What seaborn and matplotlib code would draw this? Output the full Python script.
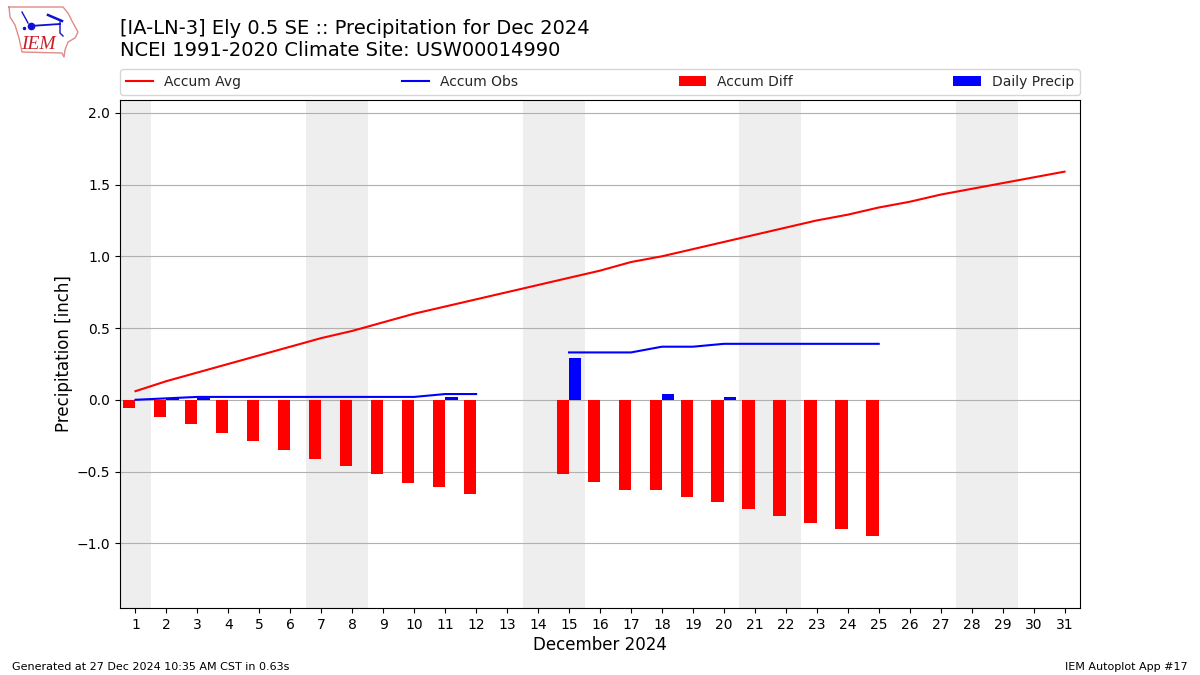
import numpy as np
import pandas as pd
import matplotlib
matplotlib.use("Agg")
import matplotlib.pyplot as plt
import seaborn as sns

days = list(range(1, 32))
accum_avg = [0.06, 0.13, 0.19, 0.25, 0.31, 0.37, 0.43, 0.48, 0.54, 0.60, 0.65, 0.70, 0.75, 0.80, 0.85, 0.90,
             0.96, 1.00, 1.05, 1.10, 1.15, 1.20, 1.25, 1.29, 1.34, 1.38, 1.43, 1.47, 1.51, 1.55, 1.59]
obs_days_a = [1, 2, 3, 4, 5, 6, 7, 8, 9, 10, 11, 12]
obs_vals_a = [0.0, 0.01, 0.02, 0.02, 0.02, 0.02, 0.02, 0.02, 0.02, 0.02, 0.04, 0.04]
obs_days_b = [15, 16, 17, 18, 19, 20, 21, 22, 23, 24, 25]
obs_vals_b = [0.33, 0.33, 0.33, 0.37, 0.37, 0.39, 0.39, 0.39, 0.39, 0.39, 0.39]
diff_days = obs_days_a + obs_days_b
diff_vals = [-0.06, -0.12, -0.17, -0.23, -0.29, -0.35, -0.41, -0.46, -0.52, -0.58, -0.61, -0.66,
             -0.52, -0.57, -0.63, -0.63, -0.68, -0.71, -0.76, -0.81, -0.86, -0.90, -0.95]
precip_days = [2, 3, 11, 15, 18, 20]
precip_vals = [0.01, 0.01, 0.02, 0.29, 0.04, 0.02]
weekends = [(0.5, 1.5), (6.5, 8.5), (13.5, 15.5), (20.5, 22.5), (27.5, 29.5)]
title_text = "[IA-LN-3] Ely 0.5 SE :: Precipitation for Dec 2024\nNCEI 1991-2020 Climate Site: USW00014990"

sns.set_theme(style="ticks", rc={"axes.grid": False, "lines.solid_capstyle": "projecting"})
plt.rcParams["font.family"] = ["DejaVu Sans"]

fig = plt.figure(figsize=(12, 6.75), dpi=100)
ax = fig.add_axes([0.1, 0.0995, 0.8, 0.7525])

for start, end in weekends:
    ax.axvspan(start, end, color="#eeeeee", lw=0, zorder=0)

sns.lineplot(x=days, y=accum_avg, color="red", lw=1.5, label="Accum Avg", ax=ax, estimator=None, zorder=3)
sns.lineplot(x=obs_days_a, y=obs_vals_a, color="blue", lw=1.5, label="Accum Obs", ax=ax, estimator=None, zorder=3)
sns.lineplot(x=obs_days_b, y=obs_vals_b, color="blue", lw=1.5, ax=ax, estimator=None, zorder=3)
ax.bar(diff_days, diff_vals, width=-0.4, align="edge", color="red", edgecolor="none", linewidth=0,
       label="Accum Diff", zorder=2)
ax.bar(precip_days, precip_vals, width=0.4, align="edge", color="blue", edgecolor="none", linewidth=0,
       label="Daily Precip", zorder=2)

ax.set_xlim(0.5, 31.5)
ax.set_ylim(-1.45, 2.09)
ax.set_xticks(days)
ax.set_yticks([-1.0, -0.5, 0.0, 0.5, 1.0, 1.5, 2.0])
ax.tick_params(labelsize=10, length=3.5, width=0.8, color="black", labelcolor="black")
ax.yaxis.grid(True, color="#b0b0b0", lw=0.8)
ax.set_axisbelow(True)
for s in ax.spines.values():
    s.set_visible(True)
    s.set_color("black")
    s.set_linewidth(0.8)
ax.set_xlabel("December 2024", fontsize=12, color="black", labelpad=3)
ax.set_ylabel("Precipitation [inch]", fontsize=12, color="black", labelpad=2.5)

ax.legend(loc="lower left", bbox_to_anchor=(0, 1.0105, 1, 0.05), ncol=4, mode="expand",
          fontsize=10, frameon=True, borderaxespad=0)

fig.text(0.1, 0.9105, title_text, fontsize=14, color="black", ha="left", va="bottom", linespacing=1.2)
fig.text(0.01, 0.0045, "Generated at 27 Dec 2024 10:35 AM CST in 0.63s", fontsize=8, color="black", ha="left", va="bottom")
fig.text(0.99, 0.0045, "IEM Autoplot App #17", fontsize=8, color="black", ha="right", va="bottom")

# Small IEM logo, in pixel coordinates of a figure-level overlay
logo = fig.add_axes([0, 1 - 60 / 675, 80 / 1200, 60 / 675])
logo.set_xlim(0, 80)
logo.set_ylim(60, 0)
logo.axis("off")
outline_x = [9, 63, 68, 72, 78, 75, 68, 65, 64, 62, 22, 19, 15, 10, 9]
outline_y = [7, 7, 13, 21, 32, 38, 42, 50, 57, 53, 52, 38, 25, 17, 7]
logo.plot(outline_x, outline_y, color="#e08a8a", lw=1.0)
logo.plot([30, 60], [26, 24], color="#1010d0", lw=1.3)
logo.plot([22, 28], [12, 23], color="#1010d0", lw=1.0)
logo.plot([60, 60, 63], [22, 33, 36], color="#1010d0", lw=1.0)
logo.plot([48, 55, 62], [15, 18, 21], color="#1010d0", lw=1.8)
logo.plot([31], [26], "o", color="#1010d0", ms=4.5)
logo.plot([24], [28], "o", color="#1010d0", ms=1.5)
logo.text(21, 53, "IEM", color="#c8202a", fontsize=14, family="Liberation Serif", style="italic", ha="left", va="bottom")

fig.savefig("out.png", dpi=100)
